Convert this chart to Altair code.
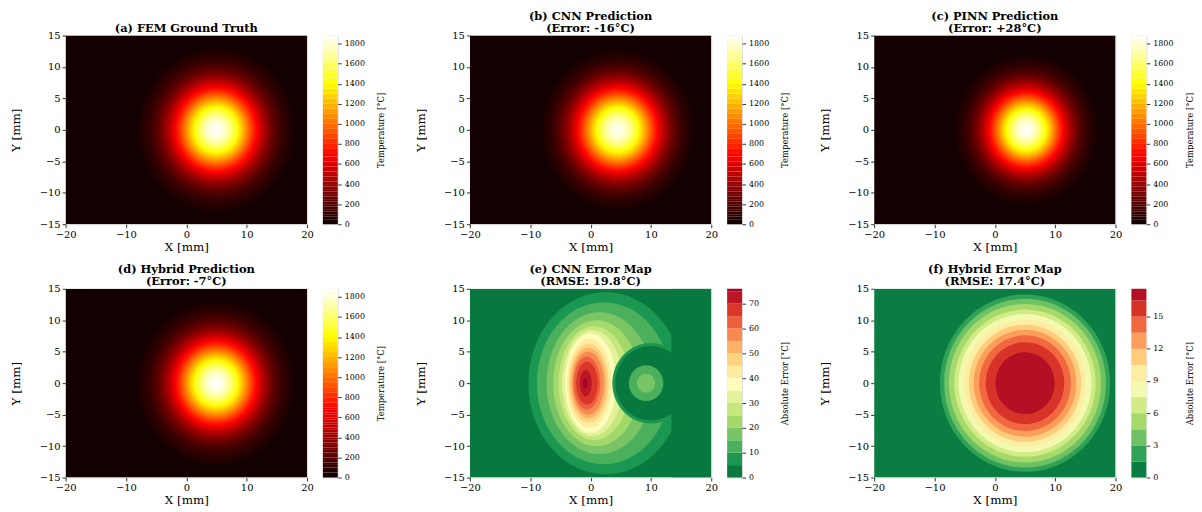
import altair as alt
import pandas as pd

# ---------------- data ----------------
X_TICKS = [-20, -10, 0, 10, 20]
Y_TICKS = [-15, -10, -5, 0, 5, 10, 15]
X_DOMAIN = [-20, 20]
Y_DOMAIN = [-15, 15]

# temperature fields: contour level (°C) and radius (mm) of the region above it
TEMP_LEVELS = [50, 75, 100, 125, 150, 175, 200, 225, 250, 275, 300, 325, 350, 375,
               400, 425, 450, 475, 500, 525, 550, 575, 600, 625, 650, 675, 700,
               750, 800, 850, 900, 950, 1000, 1050, 1100, 1150, 1200, 1250, 1300,
               1350, 1400, 1450, 1500, 1550, 1600, 1650, 1700, 1750, 1800, 1850]
TEMP_TOP = 1880
FEM_RADII = [12.77, 12.03, 11.48, 11.03, 10.66, 10.32, 10.03, 9.76, 9.51, 9.29,
             9.07, 8.87, 8.68, 8.50, 8.33, 8.17, 8.01, 7.85, 7.71, 7.56,
             7.42, 7.29, 7.15, 7.02, 6.90, 6.77, 6.65,
             6.41, 6.18, 5.96, 5.74, 5.52, 5.31, 5.10, 4.89, 4.68, 4.47, 4.26, 4.04,
             3.83, 3.61, 3.38, 3.15, 2.91, 2.65, 2.37, 2.07, 1.73, 1.31, 0.70]
CNN_RADII = [12.40, 11.75, 11.20, 10.78, 10.45, 10.13, 9.85, 9.59, 9.35, 9.13,
             8.92, 8.73, 8.55, 8.37, 8.20, 8.04, 7.89, 7.74, 7.60, 7.46,
             7.32, 7.18, 7.05, 6.92, 6.80, 6.68, 6.56,
             6.32, 6.09, 5.87, 5.65, 5.43, 5.22, 5.01, 4.80, 4.59, 4.38, 4.17, 3.95,
             3.74, 3.52, 3.29, 3.05, 2.80, 2.53, 2.24, 1.92, 1.55, 1.10, 0.40]
PINN_RADII = [11.62, 10.95, 10.45, 10.04, 9.70, 9.39, 9.13, 8.88, 8.65, 8.45,
              8.25, 8.07, 7.90, 7.74, 7.58, 7.43, 7.29, 7.14, 7.02, 6.88,
              6.75, 6.63, 6.51, 6.39, 6.28, 6.16, 6.05,
              5.83, 5.62, 5.42, 5.22, 5.02, 4.83, 4.64, 4.45, 4.26, 4.07, 3.88, 3.68,
              3.49, 3.29, 3.08, 2.87, 2.65, 2.41, 2.16, 1.88, 1.57, 1.19, 0.64]
PEAK_X = {"fem": 4.95, "cnn": 4.5, "pinn": 5.2, "hybrid": 4.95}
TEMP_CBAR_TICKS = [0, 200, 400, 600, 800, 1000, 1200, 1400, 1600, 1800]

# CNN absolute error map (°C): crescent levels as ellipses (centre x, x-radius, y/x stretch)
CNN_ERR_LEVELS = [5, 10, 15, 20, 25, 30, 35, 40, 45, 50, 55, 60, 65, 70, 75]
CNN_ERR_CX = [2.5, 2.2, 1.5, 1.0, 0.6, 0.3, 0.0, -0.2, -0.3, -0.35, -0.4, -0.6, -0.6, -0.8, -0.9]
CNN_ERR_RX = [12.8, 11.1, 8.8, 7.2, 5.9, 5.0, 4.2, 3.7, 3.3, 2.95, 2.6, 2.2, 1.8, 1.0, 0.4]
CNN_ERR_STRETCH = [1.13, 1.16, 1.28, 1.39, 1.53, 1.68, 1.88, 1.92, 1.9, 1.9, 1.92, 1.9, 1.9, 2.1, 2.0]
CNN_ERR_TOP = 76
# low-error pocket right of the crescent: levels of its rim, outer to inner
CNN_HOLE_X = 10.0
CNN_HOLE_LEVELS = [5, 0]
CNN_HOLE_R = [6.4, 5.9]
CNN_CUT_X = 13.4
CNN_BLOB_X = 9.2
CNN_BLOB_LEVELS = [10, 15]
CNN_BLOB_R = [2.85, 1.5]
CNN_CBAR_TICKS = [0, 10, 20, 30, 40, 50, 60, 70]

# Hybrid absolute error map (°C): concentric levels
HYB_ERR_LEVELS = [1.5, 3.0, 4.5, 6.0, 7.5, 9.0, 10.5, 12.0, 13.5, 15.0, 16.5]
HYB_ERR_RADII = [14.1, 13.4, 12.6, 11.7, 11.0, 10.1, 9.3, 8.5, 7.6, 6.5, 4.9]
HYB_ERR_TOP = 17.6
HYB_PEAK_X = 5.0
HYB_CBAR_TICKS = [0, 3, 6, 9, 12, 15]

TITLES = {
    "a": ["(a) FEM Ground Truth"],
    "b": ["(b) CNN Prediction", "(Error: -16°C)"],
    "c": ["(c) PINN Prediction", "(Error: +28°C)"],
    "d": ["(d) Hybrid Prediction", "(Error: -7°C)"],
    "e": ["(e) CNN Error Map", "(RMSE: 19.8°C)"],
    "f": ["(f) Hybrid Error Map", "(RMSE: 17.4°C)"],
}

# ---------------- styling / layout ----------------
W, H = 243, 190
CB_W = 15
PPU = W / 40.0
ASPECT = (H / 30.0) / PPU
FONT = "DejaVu Serif"

XS = alt.Scale(domain=X_DOMAIN, nice=False, zero=False)
YS = alt.Scale(domain=Y_DOMAIN, nice=False, zero=False)
SIZE = alt.Scale(type="pow", exponent=2, domain=[0, 20], range=[0, (2 * 20 * PPU) ** 2])

AX_COMMON = dict(labelFont=FONT, labelFontSize=10, titleFont=FONT, titleFontSize=12,
                 titleFontWeight="normal", labelColor="black", titleColor="black",
                 tickColor="black", tickSize=3.5, tickWidth=0.8, domain=False,
                 grid=False, labelFlush=False, format="d", labelPadding=2)
XAX = alt.Axis(values=X_TICKS, title="X [mm]", titlePadding=1, minExtent=16, maxExtent=16, **AX_COMMON)
YAX = alt.Axis(values=Y_TICKS, title="Y [mm]", titlePadding=13, minExtent=30, maxExtent=30, **AX_COMMON)


def hot_scale():
    return alt.Scale(domain=[0, 0.365 * TEMP_TOP, 0.746 * TEMP_TOP, TEMP_TOP],
                     range=["#0b0000", "#ff0000", "#ffff00", "#ffffff"],
                     interpolate="rgb", zero=False, nice=False)


RDYLGN_R = ["#006837", "#1a9850", "#66bd63", "#a6d96a", "#d9ef8b", "#ffffbf",
            "#fee08b", "#fdae61", "#f46d43", "#d73027", "#a50026"]


def err_scale(top):
    return alt.Scale(domain=[top * i / 10.0 for i in range(11)], range=RDYLGN_R,
                     interpolate="rgb", zero=False, nice=False)


def ellipse_path(k):
    c = 0.5523
    return (f"M-1,0C-1,{-c*k:.4f} {-c:.4f},{-k:.4f} 0,{-k:.4f}"
            f"C{c:.4f},{-k:.4f} 1,{-c*k:.4f} 1,0"
            f"C1,{c*k:.4f} {c:.4f},{k:.4f} 0,{k:.4f}"
            f"C{-c:.4f},{k:.4f} -1,{c*k:.4f} -1,0Z")


def band_mid(levels, i, top):
    nxt = levels[i + 1] if i + 1 < len(levels) else top
    return (levels[i] + nxt) / 2.0


def rect_layer(x0, x1, value, cs):
    df = pd.DataFrame({"x": [x0], "x2": [x1], "y": [Y_DOMAIN[0]], "y2": [Y_DOMAIN[1]], "v": [value]})
    return alt.Chart(df).mark_rect(strokeWidth=0, clip=True).encode(
        x=alt.X("x:Q", scale=XS, axis=XAX), x2="x2:Q",
        y=alt.Y("y:Q", scale=YS, axis=YAX), y2="y2:Q",
        color=alt.Color("v:Q", scale=cs, legend=None))


def disk_layer(df, cs):
    df = df.copy()
    df["shape"] = [ellipse_path(k * ASPECT) for k in df["k"]]
    df["draw"] = list(range(len(df)))
    return alt.Chart(df).mark_point(filled=True, opacity=1, strokeWidth=0, clip=True).encode(
        x=alt.X("x:Q", scale=XS, axis=XAX),
        y=alt.Y("y:Q", scale=YS, axis=YAX),
        size=alt.Size("rx:Q", scale=SIZE, legend=None),
        shape=alt.Shape("shape:N", scale=None, legend=None),
        color=alt.Color("v:Q", scale=cs, legend=None),
        order=alt.Order("draw:Q"))


def disks_df(levels, xs, radii, stretch, top):
    return pd.DataFrame({
        "x": xs, "y": [0.0] * len(levels), "rx": radii, "k": stretch,
        "level": levels, "v": [band_mid(levels, i, top) for i in range(len(levels))]})


def colorbar(levels, top, cs, ticks, title):
    lo = [0] + list(levels)
    hi = list(levels) + [top]
    df = pd.DataFrame({"lo": lo, "hi": hi, "v": [(a + b) / 2.0 for a, b in zip(lo, hi)]})
    ax = alt.Axis(orient="right", values=ticks, title=title, titleAngle=270,
                  labelFont=FONT, labelFontSize=8, titleFont=FONT,
                  titleFontSize=8.5, titleFontWeight="normal", labelColor="black",
                  titleColor="black", tickColor="black", tickSize=3.5, tickWidth=0.8,
                  domain=False, grid=False, format="d", labelPadding=3,
                  minExtent=30, maxExtent=30, titlePadding=18)
    return alt.Chart(df).mark_rect(strokeWidth=0).encode(
        y=alt.Y("lo:Q", scale=alt.Scale(domain=[0, top], nice=False, zero=False), axis=ax),
        y2="hi:Q",
        x=alt.value(0), x2=alt.value(CB_W),
        color=alt.Color("v:Q", scale=cs, legend=None)).properties(width=CB_W, height=H)


def titled(layers, key):
    return alt.layer(*layers).properties(
        width=W, height=H,
        title=alt.TitleParams(TITLES[key], font=FONT, fontSize=11.5, fontWeight="bold",
                              color="black", anchor="middle", offset=-4, lineHeight=12.5))


def temp_panel(key, radii, cx):
    cs = hot_scale()
    bg = band_mid([0] + TEMP_LEVELS, 0, TEMP_TOP)
    df = disks_df(TEMP_LEVELS, [cx] * len(TEMP_LEVELS), radii, [1.0] * len(TEMP_LEVELS), TEMP_TOP)
    plot = titled([rect_layer(X_DOMAIN[0], X_DOMAIN[1], bg, cs), disk_layer(df, cs)], key)
    cb = colorbar(TEMP_LEVELS, TEMP_TOP, cs, TEMP_CBAR_TICKS, "Temperature [°C]")
    return alt.hconcat(plot, cb, spacing=8)


def cnn_err_panel():
    cs = err_scale(CNN_ERR_TOP)
    step = CNN_ERR_LEVELS[0]
    bg = step / 2.0
    crescent = disks_df(CNN_ERR_LEVELS, CNN_ERR_CX, CNN_ERR_RX, CNN_ERR_STRETCH, CNN_ERR_TOP)
    n_h = len(CNN_HOLE_LEVELS)
    hole = pd.DataFrame({"x": [CNN_HOLE_X] * n_h, "y": [0.0] * n_h, "rx": CNN_HOLE_R,
                         "k": [1.0] * n_h, "level": CNN_HOLE_LEVELS,
                         "v": [lv + step / 2.0 for lv in CNN_HOLE_LEVELS]})
    n_b = len(CNN_BLOB_LEVELS)
    blob = pd.DataFrame({"x": [CNN_BLOB_X] * n_b, "y": [0.0] * n_b,
                         "rx": CNN_BLOB_R, "k": [1.0] * n_b,
                         "level": CNN_BLOB_LEVELS,
                         "v": [lv + step / 2.0 for lv in CNN_BLOB_LEVELS]})
    plot = titled([rect_layer(X_DOMAIN[0], X_DOMAIN[1], bg, cs),
                   disk_layer(crescent, cs),
                   disk_layer(hole, cs),
                   rect_layer(CNN_CUT_X, X_DOMAIN[1], bg, cs),
                   disk_layer(blob, cs)], "e")
    cb = colorbar(CNN_ERR_LEVELS, CNN_ERR_TOP, cs, CNN_CBAR_TICKS, "Absolute Error [°C]")
    return alt.hconcat(plot, cb, spacing=8)


def hyb_err_panel():
    cs = err_scale(HYB_ERR_TOP)
    bg = HYB_ERR_LEVELS[0] / 2.0
    df = disks_df(HYB_ERR_LEVELS, [HYB_PEAK_X] * len(HYB_ERR_LEVELS), HYB_ERR_RADII,
                  [1.0] * len(HYB_ERR_LEVELS), HYB_ERR_TOP)
    plot = titled([rect_layer(X_DOMAIN[0], X_DOMAIN[1], bg, cs), disk_layer(df, cs)], "f")
    cb = colorbar(HYB_ERR_LEVELS, HYB_ERR_TOP, cs, HYB_CBAR_TICKS, "Absolute Error [°C]")
    return alt.hconcat(plot, cb, spacing=8)


row1 = alt.hconcat(temp_panel("a", FEM_RADII, PEAK_X["fem"]),
                   temp_panel("b", CNN_RADII, PEAK_X["cnn"]),
                   temp_panel("c", PINN_RADII, PEAK_X["pinn"]),
                   spacing=28).resolve_scale(color="independent")
row2 = alt.hconcat(temp_panel("d", FEM_RADII, PEAK_X["hybrid"]),
                   cnn_err_panel(), hyb_err_panel(),
                   spacing=28).resolve_scale(color="independent")

chart = alt.vconcat(row1, row2, spacing=10).resolve_scale(color="independent").properties(
    padding={"left": 1, "top": 0, "right": 0, "bottom": 0}
).configure_view(stroke="black", strokeWidth=0.8).configure(background="white")

chart.save("out.html", embed_options={"renderer": "svg", "actions": False})
